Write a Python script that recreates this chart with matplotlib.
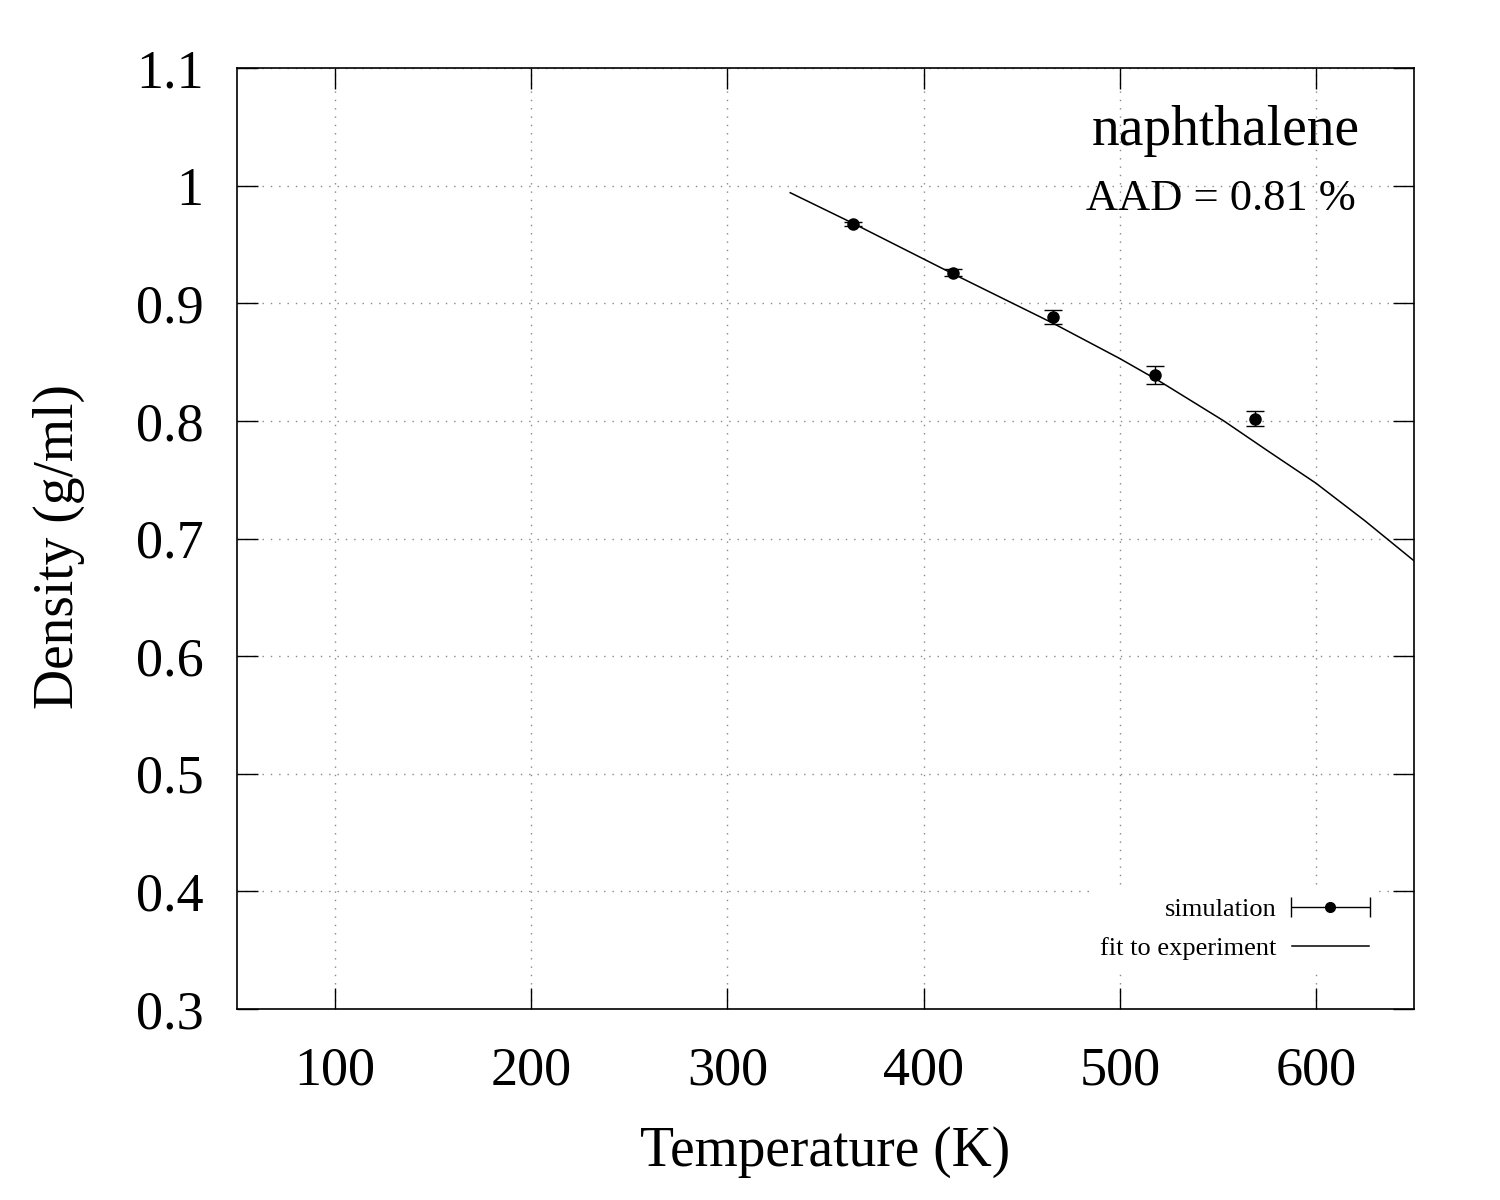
import numpy as np
import matplotlib
matplotlib.use("Agg")
import matplotlib.pyplot as plt
from matplotlib.legend_handler import HandlerErrorbar

# simulation points
sim_temp = [364, 415, 466, 518, 569]
sim_density = [0.967, 0.926, 0.888, 0.839, 0.802]
sim_error = [0.0017, 0.003, 0.006, 0.0078, 0.0064]

# fit to experiment
fit_temp = [332, 364, 415, 466, 500, 520, 553, 575, 600, 625, 650]
fit_density = [0.994, 0.968, 0.925, 0.883, 0.853, 0.834, 0.800, 0.775, 0.747, 0.715, 0.681]

x_ticks = [100, 200, 300, 400, 500, 600]
y_ticks = [0.3, 0.4, 0.5, 0.6, 0.7, 0.8, 0.9, 1.0, 1.1]
y_tick_labels = ["0.3", "0.4", "0.5", "0.6", "0.7", "0.8", "0.9", "1", "1.1"]

plt.rcParams['font.family'] = ['Liberation Serif', 'DejaVu Serif']

fig = plt.figure(figsize=(15, 12), dpi=100)
ax = fig.add_axes([0.158, 0.1592, 0.7847, 0.7841])

ax.set_xlim(50, 650)
ax.set_ylim(0.3, 1.1)
ax.set_xticks(x_ticks)
ax.set_yticks(y_ticks)
ax.set_yticklabels(y_tick_labels)

ax.tick_params(direction='in', length=15, width=1, top=True, right=True, labelsize=39)
ax.tick_params(axis='x', pad=27)
ax.tick_params(axis='y', pad=24)
for s in ax.spines.values():
    s.set_linewidth(1.2)

ax.set_axisbelow(True)
ax.grid(True, color='#888888', linestyle=(0, (1, 5)), linewidth=1.0)

ax.plot(fit_temp, fit_density, color='black', linewidth=1.1, zorder=3)
ax.errorbar(sim_temp, sim_density, yerr=sim_error, fmt='o', color='black',
            markersize=8, elinewidth=1, capsize=6.5, capthick=1, zorder=4)

# legend proxy: gnuplot draws the key sample as a horizontal error bar
proxy = ax.errorbar([np.nan], [np.nan], xerr=[1], fmt='o', color='black',
                    markersize=7, elinewidth=1, capsize=7.5, capthick=1,
                    label='simulation')
line_proxy, = ax.plot([], [], color='black', linewidth=1.1, label='fit to experiment')

leg = ax.legend(handles=[proxy, line_proxy], loc='upper right',
                bbox_to_anchor=(0.980, 0.141), markerfirst=False,
                fontsize=19, handlelength=2.95, handletextpad=0.57,
                labelspacing=0.59, borderpad=0.3, frameon=True,
                framealpha=1, fancybox=False,
                handler_map={type(proxy): HandlerErrorbar(xerr_size=1.48)})
leg.get_frame().set_edgecolor('none')
leg.get_frame().set_facecolor('white')

ax.text(0.840, 0.918, "naphthalene", transform=ax.transAxes, ha='center',
        va='baseline', fontsize=40)
ax.text(0.836, 0.849, "AAD = 0.81 %", transform=ax.transAxes, ha='center',
        va='baseline', fontsize=32)

ax.set_xlabel("Temperature (K)", fontsize=40)
ax.set_ylabel("Density (g/ml)", fontsize=40)
ax.xaxis.set_label_coords(0.5, -0.124)
ax.yaxis.set_label_coords(-0.129, 0.491)

fig.savefig("out.png", dpi=100)
